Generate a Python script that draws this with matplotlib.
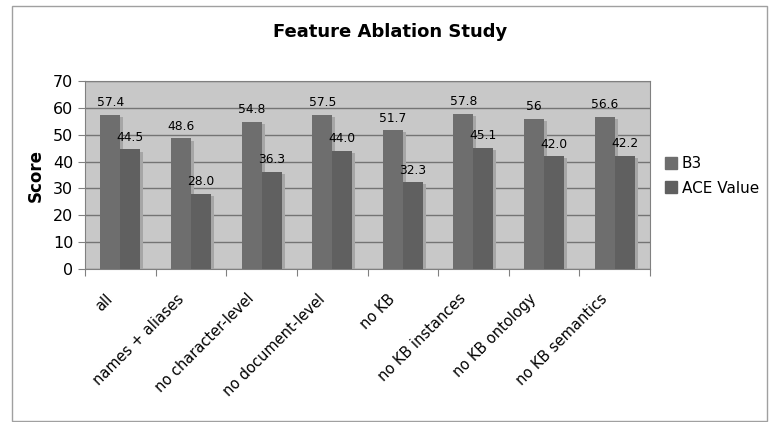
import matplotlib.pyplot as plt
import matplotlib.patheffects as pe
import matplotlib.transforms as mtransforms
from matplotlib.patches import Rectangle, Patch
import numpy as np

categories = ["all", "names + aliases", "no character-level", "no document-level",
              "no KB", "no KB instances", "no KB ontology", "no KB semantics"]
b3 = [57.4, 48.6, 54.8, 57.5, 51.7, 57.8, 56, 56.6]
ace = [44.5, 28.0, 36.3, 44.0, 32.3, 45.1, 42.0, 42.2]
b3_labels = ["57.4", "48.6", "54.8", "57.5", "51.7", "57.8", "56", "56.6"]
ace_labels = ["44.5", "28.0", "36.3", "44.0", "32.3", "45.1", "42.0", "42.2"]

plt.rcParams["font.family"] = "DejaVu Sans"

fig = plt.figure(figsize=(7.7, 4.22), dpi=100)
ax = fig.add_axes([85 / 770, 1 - 269 / 422, 565 / 770, 188 / 422])

# outer frame
fig.patches.append(Rectangle((12 / 770, 1 / 422), 755 / 770, 415 / 422,
                             transform=fig.transFigure, fill=False,
                             edgecolor="#a0a0a0", linewidth=1))

x = np.arange(len(categories))
w = 0.283
shadow = [pe.SimplePatchShadow(offset=(2.2, -1.5), shadow_rgbFace="#a6a6a6", alpha=1), pe.Normal()]

bars1 = ax.bar(x - w / 2, b3, w, color="#6e6e6e", zorder=3)
bars2 = ax.bar(x + w / 2, ace, w, color="#606060", zorder=3)
for b in list(bars1) + list(bars2):
    b.set_path_effects(shadow)

for xi, v, t in zip(x, b3, b3_labels):
    ax.annotate(t, (xi - w / 2, v), xytext=(0, 4), textcoords="offset points",
                ha="center", va="bottom", fontsize=8.8, zorder=5)
for xi, v, t in zip(x, ace, ace_labels):
    ax.annotate(t, (xi + w / 2, v), xytext=(0, 4), textcoords="offset points",
                ha="center", va="bottom", fontsize=8.8, zorder=5)

ax.set_facecolor("#c8c8c8")
ax.set_xlim(-0.5, len(categories) - 0.5)
ax.set_ylim(0, 70)
ax.set_yticks(range(0, 71, 10))
ax.yaxis.grid(True, color="#747474", linewidth=1)
ax.set_axisbelow(True)
for s in ax.spines.values():
    s.set_color("#808080")

ax.set_xticks(np.arange(len(categories) + 1) - 0.5)
ax.set_xticklabels([])
ax.set_xticks(x, minor=True)
ax.set_xticklabels(categories, minor=True, rotation=45, ha="right",
                   rotation_mode="anchor", fontsize=10.5)
ax.tick_params(axis="x", which="minor", length=0, pad=16)
ax.tick_params(axis="x", which="major", length=5, color="#808080")
ax.tick_params(axis="y", length=5, color="#808080", labelsize=11.5)
shift = mtransforms.ScaledTranslation(-15 / 100, 0, fig.dpi_scale_trans)
for lab in ax.xaxis.get_minorticklabels():
    lab.set_transform(lab.get_transform() + shift)

ax.set_ylabel("Score", fontsize=12, fontweight="bold", labelpad=6)
fig.text(390 / 770, 1 - 32 / 422, "Feature Ablation Study", ha="center", va="center",
         fontsize=13, fontweight="bold")

handles = [Patch(color="#6e6e6e", label="B3"), Patch(color="#606060", label="ACE Value")]
fig.legend(handles=handles, loc="center left",
           bbox_to_anchor=(651 / 770, 1 - 176 / 422), frameon=False,
           fontsize=11, handlelength=0.8, handleheight=0.8, handletextpad=0.3,
           labelspacing=0.6)

fig.savefig("out.png", dpi=100)
